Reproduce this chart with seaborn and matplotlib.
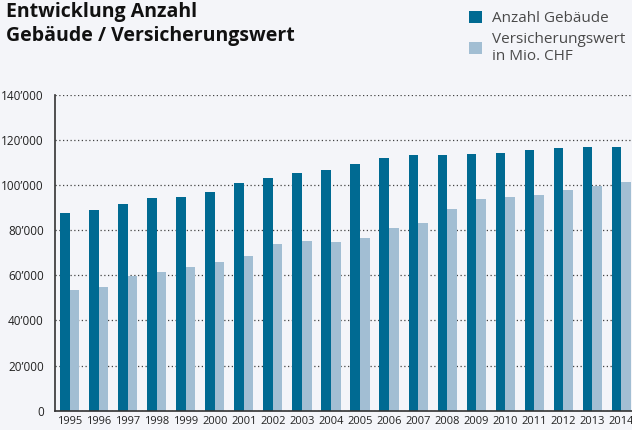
import numpy as np
import pandas as pd
import matplotlib
matplotlib.use("Agg")
import matplotlib.pyplot as plt
import seaborn as sns
from matplotlib.patches import Patch
from matplotlib.ticker import FuncFormatter

# Daten
jahre = [str(j) for j in range(1995, 2015)]
anzahl_gebaeude = [87400, 89000, 91700, 94400, 94800, 97000, 101000, 103200, 105400, 106800,
                   109400, 112100, 113400, 113400, 113900, 114300, 115600, 116500, 117000, 117000]
versicherungswert = [53600, 54900, 59800, 61600, 63800, 66000, 68700, 74000, 75300, 74900,
                     76600, 81100, 83300, 89500, 93900, 94800, 95700, 97900, 99700, 101400]
serien = ["Anzahl Gebäude", "Versicherungswert\nin Mio. CHF"]
farben = ["#006a92", "#a2bed3"]

df = pd.DataFrame({
    "jahr": jahre * 2,
    "wert": anzahl_gebaeude + versicherungswert,
    "serie": [serien[0]] * len(jahre) + [serien[1]] * len(jahre),
})

sns.set_style("white")
plt.rcParams["font.family"] = ["Open Sans", "DejaVu Sans"]
hg = "#f4f5f9"
txt = "#222222"

fig = plt.figure(figsize=(6.32, 4.30), dpi=100, facecolor=hg)
ax = fig.add_axes([55 / 632, 1 - 410.7 / 430, 581 / 632, 316 / 430])
ax.set_facecolor(hg)

sns.barplot(data=df, x="jahr", y="wert", hue="serie", palette=farben, width=0.66,
            saturation=1, dodge=True, ax=ax, legend=False, linewidth=0, edgecolor="none")

ax.set_xlim(-0.5, len(jahre) - 0.5)
ax.set_ylim(0, 140000)
ax.set_yticks(np.arange(0, 140001, 20000))
ax.yaxis.set_major_formatter(FuncFormatter(lambda v, p: f"{int(v):,}".replace(",", "’")))
ax.set_xticks(np.arange(-0.5, len(jahre), 1), minor=True)
ax.tick_params(axis="x", which="major", length=0, labelsize=8, labelcolor=txt, pad=4)
ax.tick_params(axis="x", which="minor", length=5, width=1, color="#333333", direction="out")
ax.tick_params(axis="y", length=5, width=1, color="#333333", labelsize=8.5, labelcolor=txt, pad=3)
ax.set_xlabel("")
ax.set_ylabel("")

ax.yaxis.grid(True, linestyle=(0, (1, 2)), color="#444444", linewidth=0.9)
ax.set_axisbelow(True)
for s in ["top", "right"]:
    ax.spines[s].set_visible(False)
for s in ["left", "bottom"]:
    ax.spines[s].set_color("#333333")
    ax.spines[s].set_linewidth(1.2)

fig.text(6 / 632, 1 - 2 / 430, "Entwicklung Anzahl\nGebäude / Versicherungswert",
         ha="left", va="top", fontsize=14, fontweight="bold", color="#111111", linespacing=1.25)

handles = [Patch(facecolor=f, edgecolor="none") for f in farben]
fig.legend(handles, serien, loc="upper left", bbox_to_anchor=(458 / 632, 1 - 0 / 430),
           frameon=False, fontsize=11, labelcolor="#4a4a4a", handlelength=0.9,
           handleheight=0.9, handletextpad=0.6, labelspacing=0.35, borderpad=0.2)

fig.savefig("out.png", dpi=100, facecolor=hg)
